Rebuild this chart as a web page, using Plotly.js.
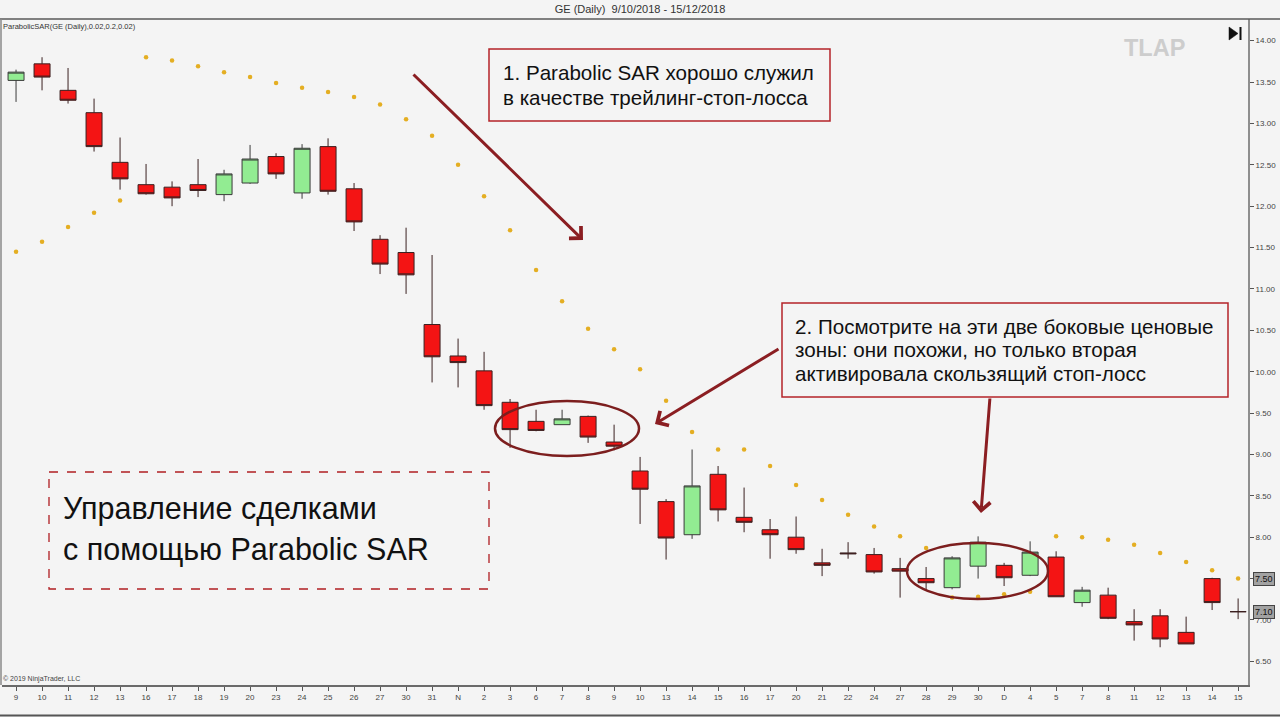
<!DOCTYPE html>
<html>
<head>
<meta charset="utf-8">
<script src="https://cdn.plot.ly/plotly-3.0.1.min.js"></script>
<style>
html,body{margin:0;padding:0;background:#f4f4f4;}
#chart{width:1280px;height:717px;}
</style>
</head>
<body>
<div id="chart"></div>
<script>
// ---- data ----
const dateLabels = ['9','10','11','12','13','16','17','18','19','20','23','24','25','26','27','30','31','N','2','3','6','7','8','9','10','13','14','15','16','17','20','21','22','24','27','28','29','30','D','4','5','7','8','11','12','13','14','15'];

const openVals = [13.52,13.72,13.40,13.13,12.53,12.26,12.23,12.26,12.14,12.28,
  12.60,12.16,12.72,12.21,11.60,11.44,10.57,10.19,10.01,9.63,
  9.40,9.36,9.46,9.15,8.80,8.43,8.03,8.76,8.24,8.09,
  8.00,7.69,7.81,7.79,7.62,7.50,7.39,7.65,7.66,7.54,
  7.76,7.21,7.30,6.98,7.05,6.85,7.50,7.10];

const highVals = [13.65,13.80,13.67,13.30,12.83,12.51,12.30,12.57,12.44,12.74,
  12.64,12.75,12.82,12.28,11.65,11.74,11.41,10.40,10.24,9.67,
  9.54,9.54,9.47,9.36,8.97,8.46,9.06,8.86,8.60,8.22,
  8.25,7.86,7.94,7.87,7.75,7.64,7.77,8.01,7.69,7.95,
  7.83,7.40,7.39,7.13,7.13,7.04,7.51,7.26];

const lowVals = [13.26,13.40,13.24,12.66,12.20,12.14,12.00,12.11,12.06,12.27,
  12.33,12.09,12.14,11.70,11.18,10.94,9.87,9.81,9.54,9.08,
  9.28,9.36,9.14,9.05,8.16,7.73,7.98,8.19,8.06,7.74,
  7.80,7.53,7.74,7.56,7.27,7.36,7.37,7.50,7.41,7.53,
  7.28,7.16,7.01,6.75,6.67,6.71,7.12,7.01];

const closeVals = [13.62,13.56,13.28,12.72,12.33,12.15,12.10,12.19,12.39,12.57,
  12.39,12.70,12.18,11.81,11.30,11.17,10.18,10.11,9.59,9.30,
  9.29,9.43,9.21,9.10,8.58,7.99,8.62,8.33,8.18,8.03,
  7.85,7.66,7.80,7.58,7.59,7.45,7.75,7.94,7.51,7.82,
  7.28,7.36,7.02,6.94,6.77,6.71,7.21,7.10];

const sarVals = [11.45,11.57,11.75,11.92,12.07,13.80,13.76,13.69,13.62,13.56,
  13.49,13.43,13.38,13.32,13.23,13.05,12.85,12.50,12.12,11.71,
  11.23,10.85,10.52,10.27,10.03,9.65,9.27,9.06,9.06,8.86,
  8.63,8.45,8.27,8.13,8.01,7.87,7.27,7.28,7.31,7.34,
  8.01,8.00,7.97,7.91,7.81,7.70,7.60,7.50];

const yTickVals = [6.5,7,7.5,8,8.5,9,9.5,10,10.5,11,11.5,12,12.5,13,13.5,14];
const yTickText = yTickVals.map(v => v.toFixed(2));

const xIdx = dateLabels.map((_, i) => i);

// ---- layout helpers (pixel -> paper) ----
const PL = 2, PR = 1248, PT = 19, PB = 685;
const PX = px => (px - PL) / (PR - PL);
const PY = py => (PB - py) / (PB - PT);

const FONT = 'Liberation Sans, Arial, sans-serif';
const DARKRED = '#8b1e22';

const traces = [
  {
    type: 'candlestick',
    x: xIdx, open: openVals, high: highVals, low: lowVals, close: closeVals,
    increasing: {fillcolor: '#92ec92', line: {color: '#3a3a3a', width: 1}},
    decreasing: {fillcolor: '#f41414', line: {color: '#3a2020', width: 1}},
    whiskerwidth: 0,
    hoverinfo: 'skip',
    showlegend: false
  },
  {
    type: 'scatter', mode: 'markers',
    x: xIdx, y: sarVals,
    marker: {color: '#e4ae22', size: 4.5},
    hoverinfo: 'skip', showlegend: false
  }
];

function textLine(txt, px, py, size, opts) {
  return Object.assign({
    text: txt, xref: 'paper', yref: 'paper', x: PX(px), y: PY(py),
    xanchor: 'left', yanchor: 'middle', showarrow: false,
    font: {family: FONT, size: size, color: '#111'}
  }, opts || {});
}

function arrow(hx, hy, tx, ty) {
  return {
    xref: 'paper', yref: 'paper', x: PX(hx), y: PY(hy),
    axref: 'pixel', ayref: 'pixel', ax: tx - hx, ay: ty - hy,
    text: '', showarrow: true, arrowhead: 4, arrowsize: 1.1,
    arrowwidth: 3, arrowcolor: DARKRED, standoff: 0
  };
}

const lastI = xIdx.length - 1;

const annotations = [
  textLine('ParabolicSAR(GE (Daily),0.02,0.2,0.02)', 1, 27, 7.5, {font: {family: FONT, size: 7.5, color: '#333'}}),
  textLine('© 2019 NinjaTrader, LLC', 1, 679, 7, {font: {family: FONT, size: 7, color: '#444'}}),
  textLine('1. Parabolic SAR хорошо служил', 501, 73, 20.6),
  textLine('в качестве трейлинг-стоп-лосса', 501, 97, 20.6),
  textLine('2. Посмотрите на эти две боковые ценовые', 793, 326, 20.6),
  textLine('зоны: они похожи, но только вторая', 793, 350, 20.6),
  textLine('активировала скользящий стоп-лосс', 793, 373, 20.6),
  textLine('Управление сделками', 61, 508, 30.5),
  textLine('с помощью Parabolic SAR', 61, 549, 30.5),
  textLine('TLAP', 1154, 48, 23.5, {xanchor: 'center', font: {family: FONT, size: 23.5, color: '#cdcdcd', weight: 'bold'}}),
  arrow(583, 240, 412, 73),
  arrow(655, 424, 780, 348),
  arrow(981, 513, 990, 397),
  {
    xref: 'paper', yref: 'y', x: PX(1264), y: sarVals[lastI],
    text: sarVals[lastI].toFixed(2), showarrow: false, xanchor: 'center', yanchor: 'middle',
    font: {family: FONT, size: 9, color: '#111'}, bgcolor: '#a2a2a2', bordercolor: '#444', borderwidth: 1, borderpad: 1
  },
  {
    xref: 'paper', yref: 'y', x: PX(1264), y: closeVals[lastI],
    text: closeVals[lastI].toFixed(2), showarrow: false, xanchor: 'center', yanchor: 'middle',
    font: {family: FONT, size: 9, color: '#111'}, bgcolor: '#a2a2a2', bordercolor: '#444', borderwidth: 1, borderpad: 1
  }
];

const shapes = [
  // frame lines
  {type: 'line', xref: 'paper', yref: 'paper', x0: PX(0), x1: PX(1280), y0: PY(19), y1: PY(19), line: {color: '#5a5a5a', width: 1.5}},
  {type: 'line', xref: 'paper', yref: 'paper', x0: PX(1), x1: PX(1), y0: PY(19), y1: PY(685), line: {color: '#8a8a8a', width: 1.5}},
  {type: 'line', xref: 'paper', yref: 'paper', x0: PX(0), x1: PX(1280), y0: PY(715.5), y1: PY(715.5), line: {color: '#555', width: 2}},
  // text boxes
  {type: 'rect', xref: 'paper', yref: 'paper', x0: PX(489), x1: PX(830), y0: PY(49), y1: PY(121), line: {color: '#b42328', width: 1.5}, fillcolor: 'rgba(0,0,0,0)'},
  {type: 'rect', xref: 'paper', yref: 'paper', x0: PX(782), x1: PX(1228), y0: PY(303), y1: PY(397), line: {color: '#b42328', width: 1.5}, fillcolor: 'rgba(0,0,0,0)'},
  {type: 'rect', xref: 'paper', yref: 'paper', x0: PX(49), x1: PX(489), y0: PY(472), y1: PY(589), line: {color: '#b01e22', width: 1.3, dash: 'dash'}, fillcolor: 'rgba(0,0,0,0)'},
  // ellipses
  {type: 'circle', xref: 'paper', yref: 'paper', x0: PX(495), x1: PX(639), y0: PY(401), y1: PY(456), line: {color: '#7c1e1e', width: 2.5}},
  {type: 'circle', xref: 'paper', yref: 'paper', x0: PX(907), x1: PX(1048), y0: PY(543), y1: PY(599), line: {color: '#7c1e1e', width: 2.5}},
  // "go to end" icon
  {type: 'path', xref: 'paper', yref: 'paper',
   path: `M ${PX(1229)} ${PY(27)} L ${PX(1229)} ${PY(40)} L ${PX(1238)} ${PY(33.5)} Z`,
   fillcolor: '#111', line: {color: '#111', width: 0.5}},
  {type: 'rect', xref: 'paper', yref: 'paper', x0: PX(1239.5), x1: PX(1241.5), y0: PY(27), y1: PY(40), fillcolor: '#111', line: {width: 0}}
];

const layout = {
  width: 1280, height: 717,
  margin: {l: PL, r: 1280 - PR, t: PT, b: 717 - PB, pad: 0},
  paper_bgcolor: '#f4f4f4', plot_bgcolor: '#f4f4f4',
  showlegend: false, hovermode: false,
  boxgap: 0.385, boxgroupgap: 0,
  title: {
    text: 'GE (Daily)\u00a0\u00a09/10/2018 - 15/12/2018',
    font: {family: FONT, size: 11, color: '#333'},
    x: 0.5, xref: 'container', xanchor: 'center',
    y: 1 - 9 / 717, yref: 'container', yanchor: 'middle'
  },
  xaxis: {
    range: [-0.54, 47.38], fixedrange: true,
    tickvals: xIdx, ticktext: dateLabels,
    ticks: 'outside', ticklen: 4, tickcolor: '#555', tickwidth: 1,
    tickfont: {family: FONT, size: 8, color: '#444'},
    showgrid: false, zeroline: false,
    showline: true, linecolor: '#6a6a6a', linewidth: 1.5,
    rangeslider: {visible: false}
  },
  yaxis: {
    side: 'right', range: [6.214, 14.262], fixedrange: true,
    tickvals: yTickVals, ticktext: yTickText,
    ticks: 'outside', ticklen: 4, tickcolor: '#555', tickwidth: 1,
    tickfont: {family: FONT, size: 8, color: '#444'},
    showgrid: false, zeroline: false,
    showline: true, linecolor: '#8e8e8e', linewidth: 2
  },
  annotations: annotations,
  shapes: shapes
};

Plotly.newPlot('chart', traces, layout, {staticPlot: true, displayModeBar: false});
</script>
</body>
</html>
